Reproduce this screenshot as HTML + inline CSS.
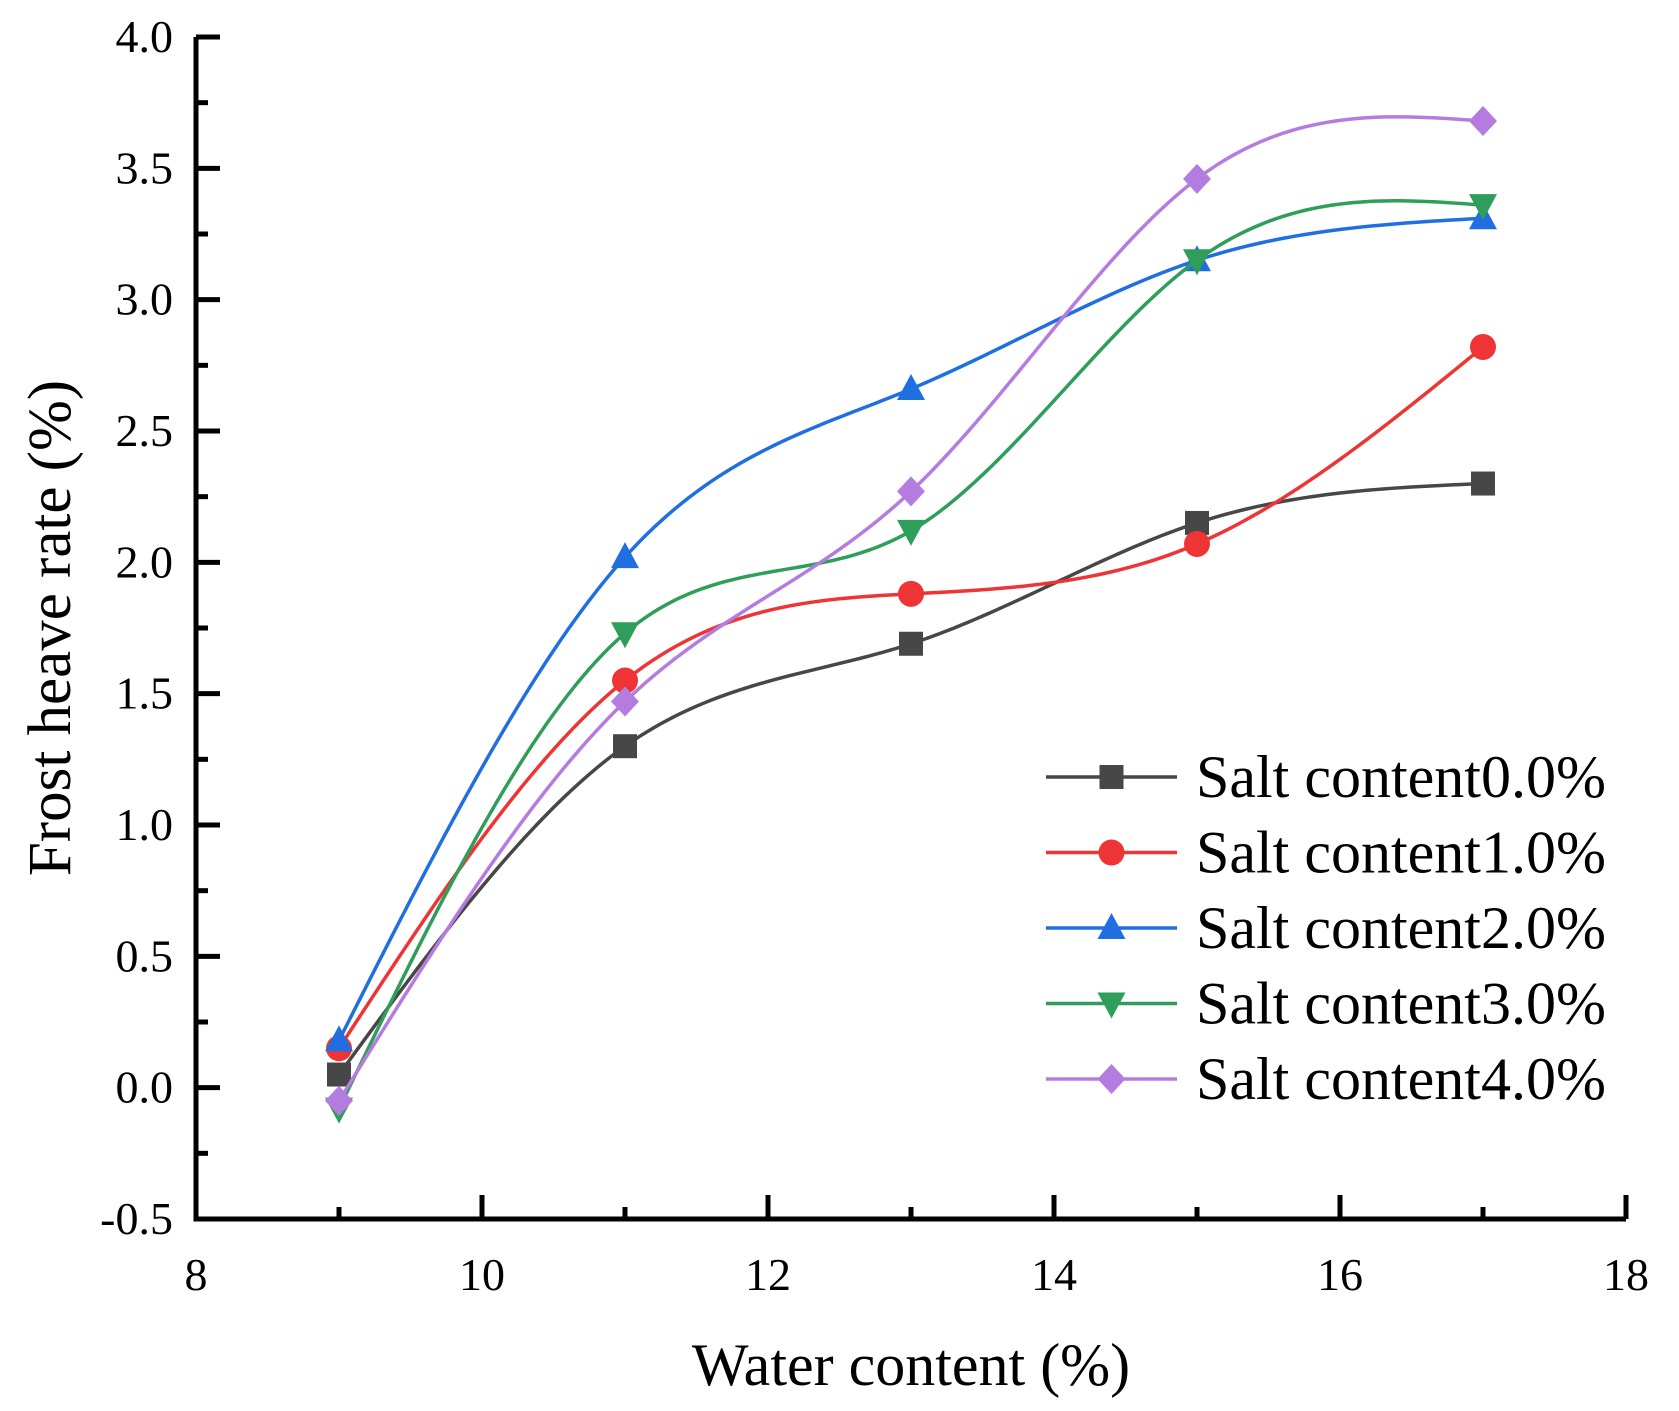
<!DOCTYPE html>
<html><head><meta charset="utf-8"><style>
html,body{margin:0;padding:0;background:#fff;}
svg text{font-family:"Liberation Serif",serif;fill:#000;}
</style></head><body>
<svg id="chart" width="1679" height="1406" xmlns="http://www.w3.org/2000/svg">
<g id="series"></g><g id="axes"></g><g id="legend"></g>
</svg>
<script>
const categories = [9, 11, 13, 15, 17];
const s0 = [0.05, 1.30, 1.69, 2.15, 2.30];
const s1 = [0.15, 1.55, 1.88, 2.07, 2.82];
const s2 = [0.18, 2.02, 2.66, 3.15, 3.31];
const s3 = [-0.08, 1.73, 2.12, 3.15, 3.36];
const s4 = [-0.05, 1.47, 2.27, 3.46, 3.68];
const seriesNames = ["Salt content0.0%","Salt content1.0%","Salt content2.0%","Salt content3.0%","Salt content4.0%"];
const xTicks = [8, 10, 12, 14, 16, 18];
const yTicks = [-0.5, 0.0, 0.5, 1.0, 1.5, 2.0, 2.5, 3.0, 3.5, 4.0];

const NS="http://www.w3.org/2000/svg";
const X0=196, X1=1626, Y0=1219, Y1=37;
const xs=v=>X0+(v-8)/(18-8)*(X1-X0);
const ys=v=>Y0-(v+0.5)/(4.5)*(Y0-Y1);
function mk(tag,attrs,parent){const e=document.createElementNS(NS,tag);for(const k in attrs)e.setAttribute(k,attrs[k]);parent.appendChild(e);return e;}
const axes=document.getElementById('axes'), ser=document.getElementById('series'), leg=document.getElementById('legend');

let a=mk('path',{d:`M${X0},${Y1} V${Y0} H${X1}`,fill:'none',stroke:'#000','stroke-width':5},axes);

yTicks.forEach((t,i)=>{
  const y=ys(t);
  const tk=mk('line',{x1:X0,x2:X0+24,y1:y,y2:y,stroke:'#000','stroke-width':5},axes);
  
  if(i<yTicks.length-1){const ym=ys(t+0.25);const m=mk('line',{x1:X0,x2:X0+12,y1:ym,y2:ym,stroke:'#000','stroke-width':5},axes);
    }
  const tx=mk('text',{x:173,y:y+15,'text-anchor':'end','font-size':46},axes);
  tx.textContent=t.toFixed(1);
  
});
xTicks.forEach((t,i)=>{
  const x=xs(t);
  const tk=mk('line',{x1:x,x2:x,y1:Y0,y2:Y0-24,stroke:'#000','stroke-width':5},axes);
  
  if(i<xTicks.length-1){const xm=xs(t+1);const m=mk('line',{x1:xm,x2:xm,y1:Y0,y2:Y0-12,stroke:'#000','stroke-width':5},axes);
    }
  const tx=mk('text',{x:x,y:1290,'text-anchor':'middle','font-size':46},axes);
  tx.textContent=String(t);
  
});
let xt=mk('text',{x:911,y:1385,'text-anchor':'middle','font-size':60},axes);xt.textContent='Water content (%)';

let yt=mk('text',{x:0,y:0,'text-anchor':'middle','font-size':61,transform:'translate(70,628) rotate(-90)'},axes);yt.textContent='Frost heave rate (%)';


const colors=['#474747','#ee3434','#1f6fe0','#2e9e5a','#b57ce0'];
const shapes=['square','circle','up','down','diamond'];
function marker(shape,x,y,c,parent){
  const r=13;
  if(shape==='square')return mk('rect',{x:x-r+1,y:y-r+1,width:2*r-2,height:2*r-2,fill:c},parent);
  if(shape==='circle')return mk('circle',{cx:x,cy:y,r:r,fill:c},parent);
  if(shape==='up')return mk('polygon',{points:`${x},${y-r-2} ${x+r+1},${y+r-2} ${x-r-1},${y+r-2}`,fill:c},parent);
  if(shape==='down')return mk('polygon',{points:`${x},${y+r+2} ${x+r+1},${y-r+2} ${x-r-1},${y-r+2}`,fill:c},parent);
  return mk('polygon',{points:`${x},${y-r-2} ${x+r+1},${y} ${x},${y+r+2} ${x-r-1},${y}`,fill:c},parent);
}
function naturalSpline(xv,yv){
  const n=xv.length, h=[], al=[0], l=[1], mu=[0], z=[0], c=new Array(n).fill(0), b=[], d=[];
  for(let i=0;i<n-1;i++)h.push(xv[i+1]-xv[i]);
  for(let i=1;i<n-1;i++)al.push(3/h[i]*(yv[i+1]-yv[i])-3/h[i-1]*(yv[i]-yv[i-1]));
  for(let i=1;i<n-1;i++){l[i]=2*(xv[i+1]-xv[i-1])-h[i-1]*mu[i-1];mu[i]=h[i]/l[i];z[i]=(al[i]-h[i-1]*z[i-1])/l[i];}
  for(let j=n-2;j>=0;j--){c[j]=z[j]-mu[j]*c[j+1];b[j]=(yv[j+1]-yv[j])/h[j]-h[j]*(c[j+1]+2*c[j])/3;d[j]=(c[j+1]-c[j])/(3*h[j]);}
  let pts=[];
  for(let i=0;i<n-1;i++)for(let k=0;k<=40;k++){const t=h[i]*k/40;if(i>0&&k===0)continue;
    pts.push([xs(xv[i]+t),ys(yv[i]+b[i]*t+c[i]*t*t+d[i]*t*t*t)]);}
  return 'M'+pts.map(p=>p[0].toFixed(2)+','+p[1].toFixed(2)).join(' L');
}
[s0,s1,s2,s3,s4].forEach((s,k)=>{
  const g=mk('g',{},ser);
  
  const p=mk('path',{d:naturalSpline(categories,s),fill:'none',stroke:colors[k],'stroke-width':3.5},g);
  
  categories.forEach((c,i)=>{const m=marker(shapes[k],xs(c),ys(s[i]),colors[k],g);
    });
  const ly=777+k*75.5;
  const lg=mk('g',{},leg);
  
  mk('line',{x1:1046,x2:1177,y1:ly,y2:ly,stroke:colors[k],'stroke-width':3.5},lg);
  marker(shapes[k],1111.5,ly,colors[k],lg);
  const t=mk('text',{x:1196,y:ly+20,'font-size':60},lg);t.textContent=seriesNames[k];
});
</script>
</body></html>
